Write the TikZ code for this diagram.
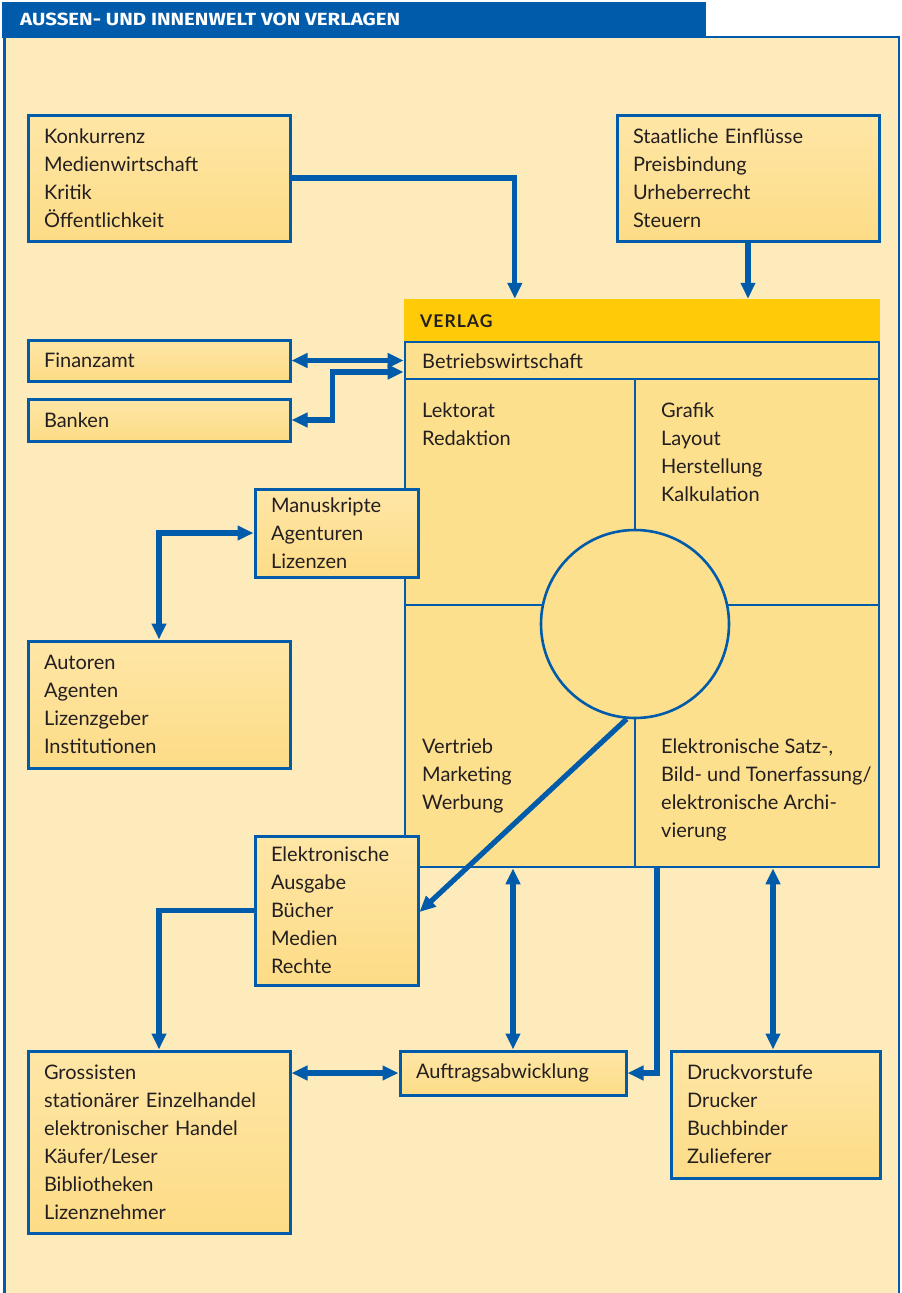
\documentclass[tikz,border=0pt]{standalone}
\usepackage{fontspec}
\setmainfont{Lato}
\newfontfamily\hdrfont{Fira Sans}
\usetikzlibrary{arrows.meta,calc}
\definecolor{vblue}{HTML}{005BAA}
\definecolor{vbg}{HTML}{FEEBBB}
\definecolor{boxtop}{HTML}{FEE6A6}
\definecolor{boxbot}{HTML}{FDDC86}
\definecolor{cellfill}{HTML}{FDE08E}
\definecolor{vyellow}{HTML}{FFCB08}
\definecolor{vtext}{HTML}{231F20}
\tikzset{
  box/.style={draw=vblue, line width=3pt, top color=boxtop, bottom color=boxbot,
    inner xsep=16pt, inner ysep=0pt, align=left, text=vtext,
    font=\fontsize{20}{28}\selectfont},
  celltext/.style={inner sep=0pt, align=left, text=vtext, anchor=north west,
    font=\fontsize{20}{28}\selectfont},
  arr/.style={draw=vblue, line width=5.2pt, -{Triangle[length=16pt,width=14pt]}},
  darr/.style={draw=vblue, line width=5.2pt, {Triangle[length=16pt,width=14pt]}-{Triangle[length=16pt,width=14pt]}},
  divline/.style={draw=vblue, line width=2.6pt}
}
\begin{document}
\begin{tikzpicture}[x=1pt,y=-1pt]
\useasboundingbox (0,0) rectangle (902,1293);
\fill[white] (0,0) rectangle (902,1293);
% panel
\fill[vbg] (4,37) rectangle (900,1293);
\draw[vblue, line width=2.5pt] (4.5,1293) -- (4.5,37) -- (899,37) -- (899,1293);
% header
\fill[vblue] (2,2) rectangle (706,38);
\node[anchor=west, inner sep=0pt, text=white] (title) at (20,19.5)
  {\resizebox{380pt}{12.5pt}{\hdrfont\bfseries AUSSEN- UND INNENWELT VON VERLAGEN}};

% outer boxes
\node[box, minimum width=262, minimum height=126, text width=230pt] (konk) at (159,178)
  {Konkurrenz\\Medienwirtschaft\\Kritik\\Öffentlichkeit};
\node[box, minimum width=262, minimum height=126, text width=230pt] (staat) at (748,178)
  {Staatliche Einflüsse\\Preisbindung\\Urheberrecht\\Steuern};
\node[box, minimum width=262, minimum height=41, text width=230pt] (fin) at (159,360.5)
  {Finanzamt};
\node[box, minimum width=262, minimum height=42, text width=230pt] (bank) at (159,420)
  {Banken};
\node[box, minimum width=262, minimum height=127, text width=230pt] (auto) at (159,704.5)
  {Autoren\\Agenten\\Lizenzgeber\\Institutionen};

% Verlag block
\node[fill=vyellow, minimum width=476, minimum height=42, inner sep=0pt] (verlag) at (642,320) {};
\node[anchor=west, inner sep=0pt, text=vtext, font=\fontsize{17.5}{20}\selectfont\bfseries\addfontfeature{LetterSpace=6}] (vlabel) at (420,321) {VERLAG};
\node[draw=vblue, line width=2.6pt, fill=cellfill, minimum width=474, minimum height=37, inner sep=0pt] (bw) at (642,360.5) {};
\node[anchor=west, inner sep=0pt, text=vtext, font=\fontsize{20}{28}\selectfont] (bwlabel) at (422,361) {Betriebswirtschaft};
\node[draw=vblue, line width=2.6pt, fill=cellfill, minimum width=474, minimum height=488, inner sep=0pt] (grid) at (642,623) {};
\draw[divline] ([xshift=-7pt]grid.north) -- ([xshift=-7pt]grid.south);
\draw[divline] ([yshift=18pt]grid.west) -- ([yshift=18pt]grid.east);
\node[circle, draw=vblue, line width=2.6pt, fill=cellfill, minimum size=188, inner sep=0pt] (circ) at (635,624) {};

\node[celltext] (lek) at (422,402.5) {Lektorat\\Redaktion};
\node[celltext] (graf) at (661,402.5) {Grafik\\Layout\\Herstellung\\Kalkulation};
\node[celltext] (vert) at (422,738.5) {Vertrieb\\Marketing\\Werbung};
\node[celltext] (elek) at (661,738.5) {Elektronische Satz-,\\Bild- und Tonerfassung/\\elektronische Archi-\\vierung};

\node[box, minimum width=163, minimum height=88, text width=131pt] (manu) at (336.5,533)
  {Manuskripte\\Agenturen\\Lizenzen};

% lower boxes
\node[box, minimum width=163, minimum height=149, text width=131pt] (ausg) at (336.5,910.5)
  {Elektronische\\Ausgabe\\Bücher\\Medien\\Rechte};
\node[box, minimum width=262, minimum height=182, text width=230pt] (gross) at (159,1142)
  {Grossisten\\stationärer Einzelhandel\\elektronischer Handel\\Käufer/Leser\\Bibliotheken\\Lizenznehmer};
\node[box, minimum width=226, minimum height=44, text width=194pt] (auft) at (513,1073)
  {Auftragsabwicklung};
\node[box, minimum width=209, minimum height=127, text width=177pt] (druck) at (775.5,1114.5)
  {Druckvorstufe\\Drucker\\Buchbinder\\Zulieferer};

% connectors
\draw[arr] (konk.east) -| ([xshift=111pt]verlag.north west);
\draw[arr] (staat.south) -- (staat.south |- verlag.north);
\draw[darr] (fin.east) -- (fin.east -| bw.west);
\draw[darr] (bank.east) -- ++(41,0) |- ([yshift=-11.5pt]bw.west);
\draw[darr] (manu.west) -| (auto.north);
\draw[arr] (circ.-95) -- ([yshift=-1.5pt]ausg.east);
\draw[arr] (ausg.west) -| (gross.north);
\draw[darr] (gross.north east |- auft.west) -- (auft.west);
\draw[darr] (auft.north) -- (auft.north |- grid.south);
\draw[arr] ([xshift=15pt]grid.south) |- (auft.east);
\draw[darr] ([xshift=-2.5pt]druck.north) -- ([xshift=-2.5pt]druck.north |- grid.south);
\end{tikzpicture}
\end{document}
